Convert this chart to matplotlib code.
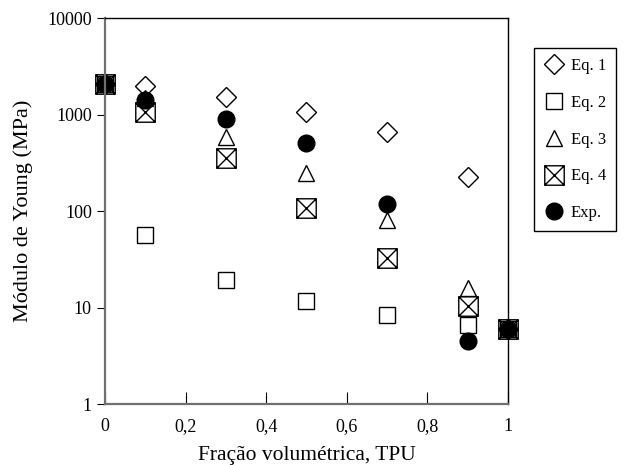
import numpy as np
import matplotlib
matplotlib.use("Agg")
import matplotlib.pyplot as plt
from matplotlib.path import Path

# Data
frac = [0, 0.1, 0.3, 0.5, 0.7, 0.9, 1]
eq1 = [2100, 1990, 1520, 1060, 660, 225, 6]
eq2 = [2100, 56, 19.3, 11.7, 8.4, 6.6, 6]
eq3 = [2100, 1500, 585, 247, 81, 15.9, 6]
eq4 = [2100, 1070, 355, 107, 33, 10.4, 6]
exp_ = [2100, 1410, 900, 505, 118, 4.5, 6]

xtick_vals = [0, 0.2, 0.4, 0.6, 0.8, 1]
xtick_labels = ["0", "0,2", "0,4", "0,6", "0,8", "1"]
ytick_vals = [1, 10, 100, 1000, 10000]
ytick_labels = ["1", "10", "100", "1000", "10000"]

plt.rcParams['font.family'] = ['Liberation Serif', 'DejaVu Serif']

# square with an X inside
verts = [(-1, -1), (1, -1), (1, 1), (-1, 1), (-1, -1),
         (-1, -1), (1, 1), (-1, 1), (1, -1)]
codes = [Path.MOVETO, Path.LINETO, Path.LINETO, Path.LINETO, Path.CLOSEPOLY,
         Path.MOVETO, Path.LINETO, Path.MOVETO, Path.LINETO]
box_x = Path(verts, codes)

fig = plt.figure(figsize=(6.27, 4.65), dpi=100)
ax = fig.add_axes([0.1675, 0.131, 0.6425, 0.830])

kw = dict(linestyle='none', markeredgecolor='black', markeredgewidth=1.0, clip_on=False)
ax.plot(frac, eq1, marker='D', markersize=10, markerfacecolor='white', label="Eq. 1", **kw)
ax.plot(frac, eq2, marker='s', markersize=12, markerfacecolor='white', label="Eq. 2", **kw)
ax.plot(frac, eq3, marker='^', markersize=11.5, markerfacecolor='white', label="Eq. 3", **kw)
ax.plot(frac, eq4, marker=box_x, markersize=14, markerfacecolor='none', label="Eq. 4", **kw)
ax.plot(frac, exp_, marker='o', markersize=12, markerfacecolor='black', label="Exp.", **kw)

ax.set_yscale('log')
ax.set_xlim(0, 1)
ax.set_ylim(1, 10000)
ax.set_xticks(xtick_vals)
ax.set_xticklabels(xtick_labels)
ax.set_yticks(ytick_vals)
ax.set_yticklabels(ytick_labels)
ax.yaxis.set_minor_locator(matplotlib.ticker.NullLocator())
ax.tick_params(axis='x', direction='in', length=9, labelsize=13, pad=10)
ax.tick_params(axis='y', direction='out', length=6, labelsize=13)
for s in ax.spines.values():
    s.set_linewidth(1.0)
ax.spines['left'].set_color('#707070')
ax.spines['left'].set_linewidth(1.6)
ax.spines['bottom'].set_color('#707070')
ax.spines['bottom'].set_linewidth(1.6)

ax.set_xlabel("Fração volumétrica, TPU", fontsize=15.5, labelpad=8)
ax.set_ylabel("Módulo de Young (MPa)", fontsize=16, labelpad=10)

leg = fig.legend(loc='upper left', bbox_to_anchor=(0.852, 0.897), fontsize=12,
                 frameon=True, fancybox=False, edgecolor='black', framealpha=1,
                 labelspacing=1.25, handletextpad=0.45, borderpad=0.6,
                 borderaxespad=0, handlelength=1.15, numpoints=1)
leg.get_frame().set_linewidth(1.0)

fig.savefig("out.png", dpi=100)
